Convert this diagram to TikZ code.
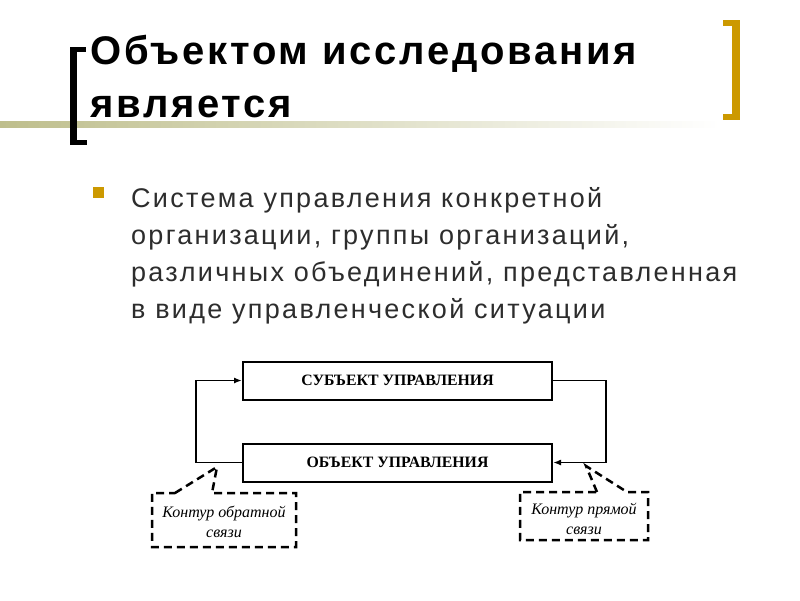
\documentclass[tikz,border=0pt]{standalone}
\usepackage{fontspec}
\setmainfont{Liberation Sans}
\newfontfamily\boxfont{Liberation Serif}
\usetikzlibrary{arrows.meta,positioning}

\definecolor{slidegold}{RGB}{204,153,0}
\definecolor{slideolive}{RGB}{190,190,140}
\definecolor{bodygray}{RGB}{45,45,45}

\tikzset{
  titletext/.style={anchor=base west,inner sep=0pt,
    font=\bfseries\fontsize{40}{51}\selectfont\addfontfeatures{LetterSpace=6.8}},
  block/.style={draw,line width=2pt,minimum width=309pt,minimum height=38pt,inner sep=0pt,
    font=\boxfont\bfseries\fontsize{15.8}{18}\selectfont},
  loopline/.style={line width=1.8pt,-{Latex[length=8pt,width=6pt]}},
  callout/.style={line width=2.5pt,dash pattern=on 8pt off 5pt},
  calltext/.style={font=\boxfont\itshape\fontsize{16}{19.5}\selectfont,align=center,inner sep=0pt}
}

\begin{document}
\begin{tikzpicture}[x=1pt,y=-1pt]
  \useasboundingbox (0,0) rectangle (800,600);
  \fill[white] (0,0) rectangle (800,600);
  % rule and brackets
  \shade[left color=slideolive,right color=white] (0,121) rectangle (720,127);
  \fill (70,47) rectangle (77,145);
  \fill (70,47) rectangle (86,52);
  \fill (70,140) rectangle (87,145);
  \fill[slidegold] (732,20) rectangle (740,120);
  \fill[slidegold] (723,20) rectangle (740,26);
  \fill[slidegold] (723,114) rectangle (740,120);

  % title
  \node[titletext] (title1) at (90,64) {Объектом исследования};
  \node[titletext] (title2) at (90,117) {является};

  % bullet text
  \fill[slidegold] (93,187) rectangle (104,198);
  \node[anchor=base west,inner sep=0pt,text=bodygray,align=left,
    font=\fontsize{27}{36.7}\selectfont\addfontfeatures{LetterSpace=8.5}] (body) at (131,318)
    {Система управления конкретной\\организации, группы организаций,\\различных объединений, представленная\\в виде управленческой ситуации};

  % scheme
  \node[block] (subj) at (397.5,380.5) {СУБЪЕКТ УПРАВЛЕНИЯ};
  \node[block] (obj) at (397.5,462.5) {ОБЪЕКТ УПРАВЛЕНИЯ};
  \draw[loopline] (obj.west) -- ++(-46,0) |- (subj.west);
  \draw[loopline] (subj.east) -- ++(53,0) |- (obj.east);

  % callouts
  \coordinate (fbtip) at (217,467);
  \draw[callout] (175,493) -- (fbtip) -- (212,493) -- (296,493) -- (296,547) -- (152,547) -- (152,493) -- cycle;
  \node[calltext] (fbtext) at (224,522) {Контур обратной\\связи};
  \coordinate (fftip) at (586,466);
  \draw[callout] (597,492) -- (fftip) -- (627,492) -- (648,492) -- (648,540) -- (520,540) -- (520,492) -- cycle;
  \node[calltext] (fftext) at (584,519) {Контур прямой\\связи};
\end{tikzpicture}
\end{document}
